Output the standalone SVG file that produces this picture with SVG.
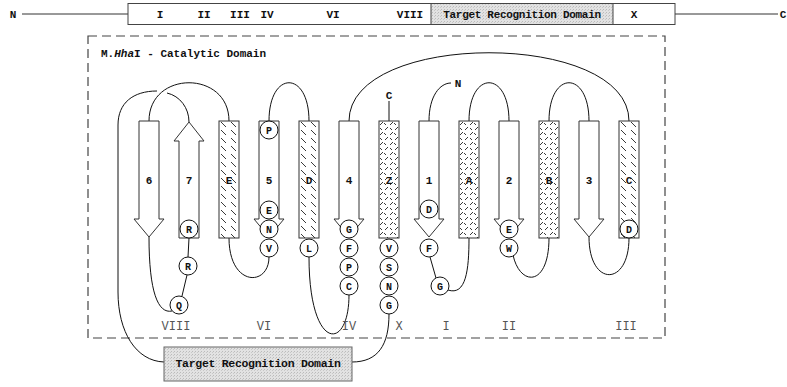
<svg xmlns="http://www.w3.org/2000/svg" width="787" height="387" viewBox="0 0 787 387">
<defs>
<pattern id="hatch1" patternUnits="userSpaceOnUse" x="219" y="121" width="10" height="8">
<path d="M2,1 L7,6" stroke="#222" stroke-width="0.9"/>
</pattern>
<pattern id="hatch2" patternUnits="userSpaceOnUse" x="379" y="121" width="10" height="10">
<path d="M1,4 L4,1 M5,2 L7,4 M6,9 L9,6 M1,7 L3,9" stroke="#222" stroke-width="0.9"/>
</pattern>
<pattern id="stipple" patternUnits="userSpaceOnUse" width="3" height="3">
<rect width="3" height="3" fill="#e2e2e2"/>
<rect x="0" y="0" width="1" height="1" fill="#bbb"/>
<rect x="2" y="1" width="1" height="1" fill="#c8c8c8"/>
</pattern>
</defs>
<style>
.t{font-family:"Liberation Mono","DejaVu Sans Mono",monospace;font-weight:bold;fill:#111}
.r{font-family:"Liberation Mono","DejaVu Sans Mono",monospace;font-size:12px;fill:#555}
.strand{fill:#fff;stroke:#333;stroke-width:1}
.h1{fill:url(#hatch1);stroke:#333;stroke-width:1}
.h2{fill:url(#hatch2);stroke:#333;stroke-width:1}
.res circle{fill:#fff;stroke:#111;stroke-width:1}
.res text{font-family:"Liberation Mono","DejaVu Sans Mono",monospace;font-weight:bold;font-size:10px;fill:#111;text-anchor:middle}
.c{fill:none;stroke:#111;stroke-width:1}
.lbl{font-size:11px;text-anchor:middle}
</style>
<rect width="787" height="387" fill="#fff"/>

<g id="topbar">
<line x1="22" y1="14" x2="128" y2="14" stroke="#333" stroke-width="1"/>
<line x1="675" y1="14" x2="778" y2="14" stroke="#333" stroke-width="1"/>
<rect x="128" y="3.5" width="547" height="21" fill="#fff" stroke="#444" stroke-width="1"/>
<rect x="431" y="3.5" width="182" height="21" fill="url(#stipple)" stroke="#444" stroke-width="1"/>
<text class="t" x="13" y="18" font-size="11" text-anchor="middle">N</text>
<text class="t" x="783" y="18" font-size="11" text-anchor="middle">C</text>
<text class="t lbl" x="160" y="18">I</text>
<text class="t lbl" x="204" y="18">II</text>
<text class="t lbl" x="240" y="18">III</text>
<text class="t lbl" x="267" y="18">IV</text>
<text class="t lbl" x="333" y="18">VI</text>
<text class="t lbl" x="410" y="18">VIII</text>
<text class="t lbl" x="522" y="18" letter-spacing="-0.3">Target Recognition Domain</text>
<text class="t lbl" x="634" y="18">X</text>
</g>

<g id="catalytic-domain">
<rect x="88" y="36" width="577" height="302" fill="none" stroke="#444" stroke-width="1.2" stroke-dasharray="9,5"/>
<text class="t" x="101" y="57" font-size="11">M.<tspan font-style="italic">Hha</tspan>I - Catalytic Domain</text>
</g>

<g id="connectors">
<path class="c" d="M164,362 C136,361 118,332 118,292 L118,125 C118,103 133,91 157,91"/>
<path class="c" d="M167,93 C180,96 189,108 189,122"/>
<path class="c" d="M149,121 C149,70 229,70 229,121"/>
<path class="c" d="M269,121 C269,70 309,70 309,121"/>
<path class="c" d="M349,121 C349,30 629,30 629,121"/>
<path class="c" d="M389,121 L389,101"/>
<path class="c" d="M429,121 C429,96 440,83 451,83"/>
<path class="c" d="M469,121 C469,70 509,70 509,121"/>
<path class="c" d="M549,121 C549,70 589,70 589,121"/>
<path class="c" d="M149,237 C149,292 158,314 172,311"/>
<path class="c" d="M189,238 L188,257"/>
<path class="c" d="M187,275 L182,296"/>
<path class="c" d="M229,238 C229,287 269,287 269,257"/>
<path class="c" d="M309,257 C309,352 349,352 349,295"/>
<path class="c" d="M430,257 L436,278"/>
<path class="c" d="M448,290 C466,296 469,270 469,238"/>
<path class="c" d="M513,255 C520,287 549,287 549,238"/>
<path class="c" d="M589,237 C589,287 629,287 629,238"/>
<path class="c" d="M389,314 C389,345 378,362 352,362"/>
</g>

<g id="strand-6"><polygon class="strand" points="139,121 159,121 159,219 164,219 149,237 134,219 139,219"/><text class="t lbl" x="149" y="184">6</text></g>
<g id="strand-7"><polygon class="strand" points="179,238 199,238 199,141 204,141 189,122 174,141 179,141"/><text class="t lbl" x="189" y="184">7</text></g>
<g id="helix-E"><rect class="h1" x="219" y="121" width="20" height="117"/><text class="t lbl" x="229" y="184">E</text></g>
<g id="strand-5"><polygon class="strand" points="259,121 279,121 279,219 284,219 269,237 254,219 259,219"/><text class="t lbl" x="269" y="184">5</text></g>
<g id="helix-D"><rect class="h1" x="299" y="121" width="20" height="117"/><text class="t lbl" x="309" y="184">D</text></g>
<g id="strand-4"><polygon class="strand" points="339,121 359,121 359,219 364,219 349,237 334,219 339,219"/><text class="t lbl" x="349" y="184">4</text></g>
<g id="helix-Z"><rect class="h2" x="379" y="121" width="20" height="117"/><text class="t lbl" x="389" y="184">Z</text><text class="t lbl" x="389" y="99">C</text></g>
<g id="strand-1"><polygon class="strand" points="419,121 439,121 439,219 444,219 429,237 414,219 419,219"/><text class="t lbl" x="429" y="184">1</text><text class="t lbl" x="458" y="87">N</text></g>
<g id="helix-A"><rect class="h2" x="459" y="121" width="20" height="117"/><text class="t lbl" x="469" y="184">A</text></g>
<g id="strand-2"><polygon class="strand" points="499,121 519,121 519,219 524,219 509,237 494,219 499,219"/><text class="t lbl" x="509" y="184">2</text></g>
<g id="helix-B"><rect class="h2" x="539" y="121" width="20" height="117"/><text class="t lbl" x="549" y="184">B</text></g>
<g id="strand-3"><polygon class="strand" points="579,121 599,121 599,219 604,219 589,237 574,219 579,219"/><text class="t lbl" x="589" y="184">3</text></g>
<g id="helix-C"><rect class="h1" x="619" y="121" width="20" height="117"/><text class="t lbl" x="629" y="184">C</text></g>

<g id="residues" class="res">
<g id="res-R1"><circle cx="189" cy="229" r="9"/><text x="189" y="232.5">R</text></g>
<g id="res-R2"><circle cx="188" cy="266" r="9"/><text x="188" y="269.5">R</text></g>
<g id="res-Q"><circle cx="179" cy="305" r="9"/><text x="179" y="308.5">Q</text></g>
<g id="res-P5"><circle cx="269" cy="130" r="9"/><text x="269" y="133.5">P</text></g>
<g id="res-E5"><circle cx="269" cy="210" r="9"/><text x="269" y="213.5">E</text></g>
<g id="res-N5"><circle cx="269" cy="229" r="9"/><text x="269" y="232.5">N</text></g>
<g id="res-V5"><circle cx="269" cy="248" r="9"/><text x="269" y="251.5">V</text></g>
<g id="res-L"><circle cx="309" cy="248" r="9"/><text x="309" y="251.5">L</text></g>
<g id="res-G4"><circle cx="349" cy="229" r="9"/><text x="349" y="232.5">G</text></g>
<g id="res-F4"><circle cx="349" cy="248" r="9"/><text x="349" y="251.5">F</text></g>
<g id="res-P4"><circle cx="349" cy="267" r="9"/><text x="349" y="270.5">P</text></g>
<g id="res-C4"><circle cx="349" cy="286" r="9"/><text x="349" y="289.5">C</text></g>
<g id="res-VZ"><circle cx="389" cy="248" r="9"/><text x="389" y="251.5">V</text></g>
<g id="res-SZ"><circle cx="389" cy="267" r="9"/><text x="389" y="270.5">S</text></g>
<g id="res-NZ"><circle cx="389" cy="286" r="9"/><text x="389" y="289.5">N</text></g>
<g id="res-GZ"><circle cx="389" cy="305" r="9"/><text x="389" y="308.5">G</text></g>
<g id="res-D1"><circle cx="429" cy="209" r="9"/><text x="429" y="212.5">D</text></g>
<g id="res-F1"><circle cx="429" cy="248" r="9"/><text x="429" y="251.5">F</text></g>
<g id="res-G1"><circle cx="440" cy="286" r="9"/><text x="440" y="289.5">G</text></g>
<g id="res-E2"><circle cx="509" cy="229" r="9"/><text x="509" y="232.5">E</text></g>
<g id="res-W2"><circle cx="509" cy="248" r="9"/><text x="509" y="251.5">W</text></g>
<g id="res-DC"><circle cx="629" cy="229" r="9"/><text x="629" y="232.5">D</text></g>
</g>

<g id="motif-labels">
<text class="r" x="176" y="330" text-anchor="middle">VIII</text>
<text class="r" x="264" y="330" text-anchor="middle">VI</text>
<text class="r" x="349" y="330" text-anchor="middle">IV</text>
<text class="r" x="399" y="330" text-anchor="middle">X</text>
<text class="r" x="446" y="330" text-anchor="middle">I</text>
<text class="r" x="509" y="330" text-anchor="middle">II</text>
<text class="r" x="626" y="330" text-anchor="middle">III</text>
</g>

<g id="trd-box">
<rect x="164" y="347" width="188" height="34" fill="url(#stipple)" stroke="#666" stroke-width="1"/>
<text class="t" x="258" y="367" font-size="11.5" text-anchor="middle" letter-spacing="-0.3">Target Recognition Domain</text>
</g>
</svg>
